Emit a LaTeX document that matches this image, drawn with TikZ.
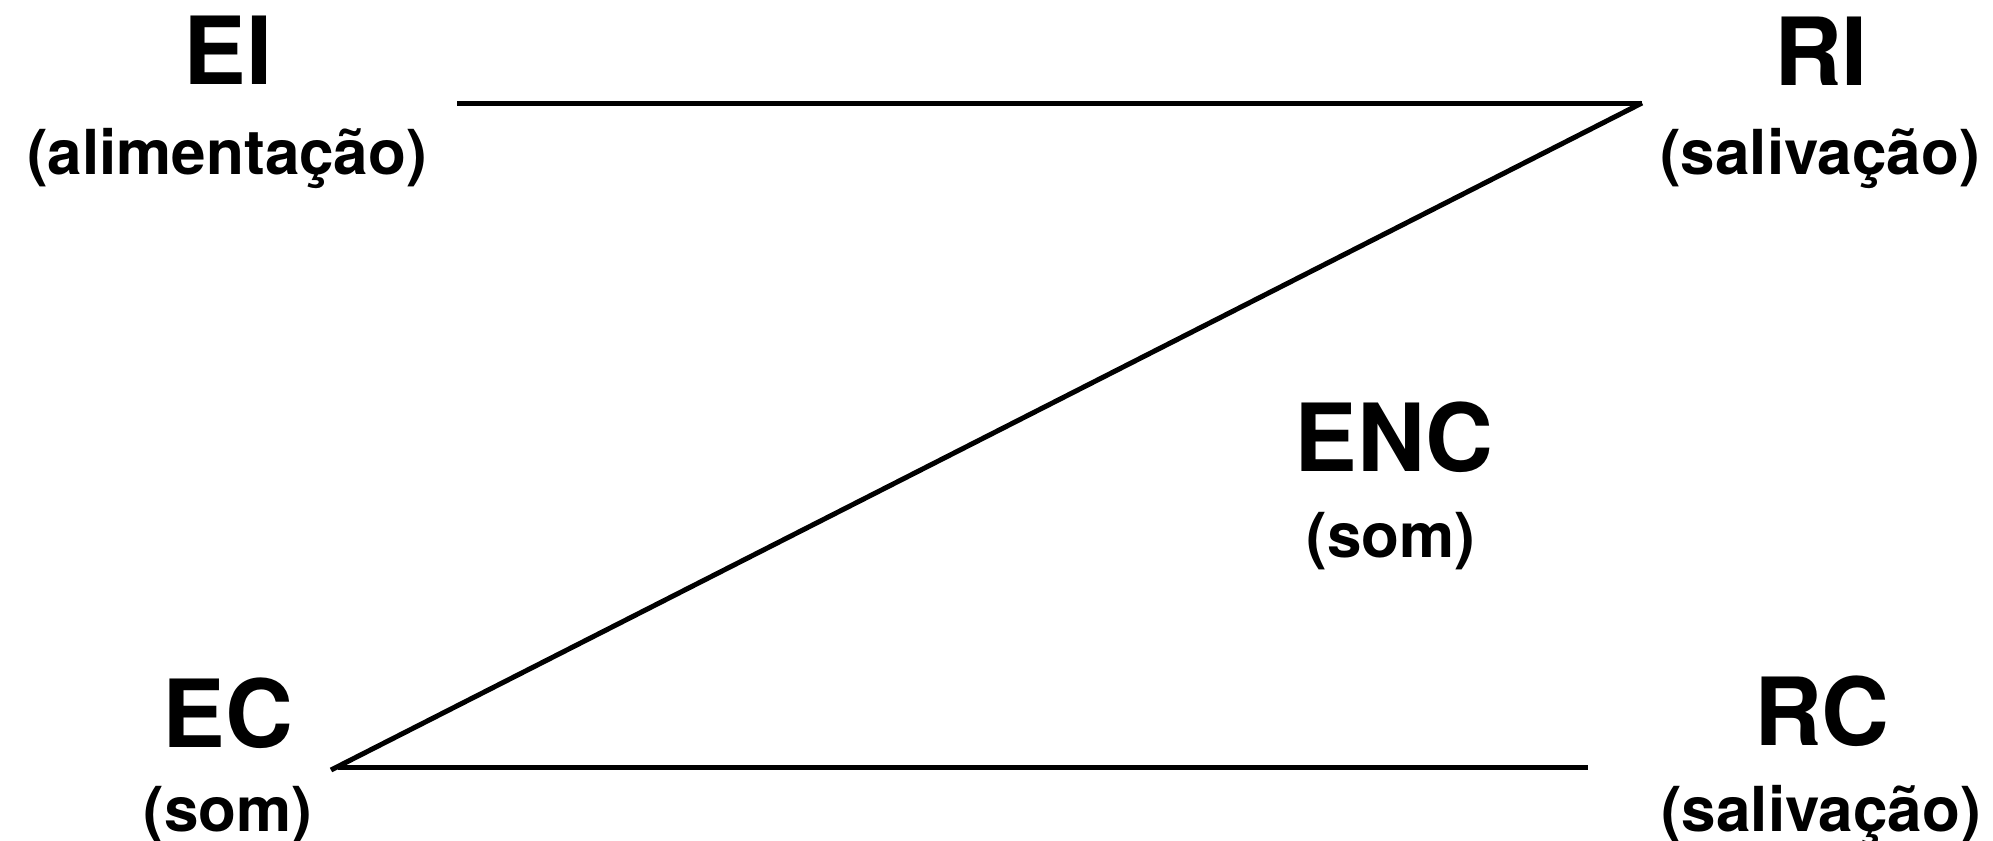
\documentclass[tikz,border=0pt]{standalone}
\usepackage{fontspec}
\setmainfont{TeX Gyre Heros}
\tikzset{
  ttl/.style={anchor=base, inner sep=0pt, font=\bfseries\fontsize{47}{50}\selectfont},
  sub/.style={anchor=base, inner sep=0pt, font=\bfseries\fontsize{31}{33}\selectfont},
  link/.style={line width=2.5pt, line cap=butt}
}
\begin{document}
\begin{tikzpicture}[x=0.5pt, y=-0.5pt]
\useasboundingbox (0,0) rectangle (1993,841);
% labels
\node[ttl] (EI) at (228,84) {EI};
\node[sub] (EIs) at (227,174) {(alimentação)};
\node[ttl] (RI) at (1821,85) {RI};
\node[sub] (RIs) at (1820,174) {(salivação)};
\node[ttl] (ENC) at (1394,471) {ENC};
\node[sub] (ENCs) at (1391,557) {(som)};
\node[ttl] (EC) at (228,747) {EC};
\node[sub] (ECs) at (228,831) {(som)};
\node[ttl] (RC) at (1822,745) {RC};
\node[sub] (RCs) at (1821,831) {(salivação)};
% line end points
\coordinate (t1) at (457,103);
\coordinate (t2) at (1642,103);
\coordinate (d2) at (331,770);
\coordinate (b1) at (338,767);
\coordinate (b2) at (1588,767);
\draw[link] (t1) -- (t2);
\draw[link] (t2) -- (d2);
\draw[link] (b1) -- (b2);
\end{tikzpicture}
\end{document}
